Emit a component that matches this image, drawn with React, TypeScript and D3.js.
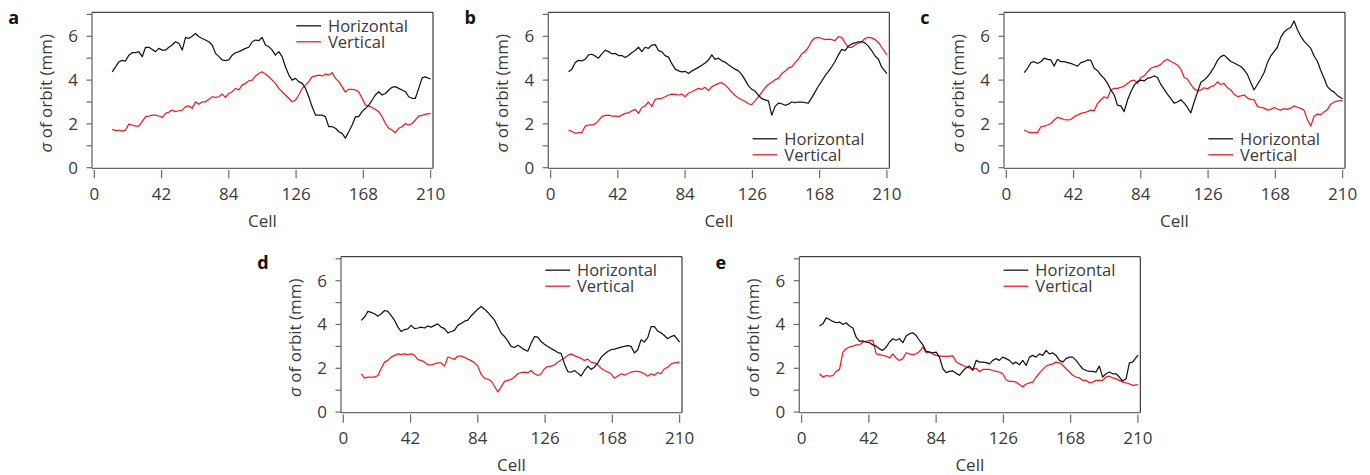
import React from 'react';
import * as d3 from 'd3';

// Cell positions at which the curves were read (shared by all panels)
const cells = [
  11.2, 13.3, 15.4, 17.4, 19.5, 21.6, 23.7, 25.8, 27.8, 29.9,
  32.0, 34.1, 36.2, 38.2, 40.3, 42.4, 44.5, 46.6, 48.6, 50.7,
  52.8, 54.9, 57.0, 59.0, 61.1, 63.2, 65.3, 67.4, 69.4, 71.5,
  73.6, 75.7, 77.8, 79.9, 81.9, 84.0, 86.1, 88.2, 90.3, 92.3,
  94.4, 96.5, 98.6, 100.7, 102.7, 104.8, 106.9, 109.0, 111.1, 113.1,
  115.2, 117.3, 119.4, 121.5, 123.5, 125.6, 127.7, 129.8, 131.9, 133.9,
  136.0, 138.1, 140.2, 142.3, 144.3, 146.4, 148.5, 150.6, 152.7, 154.7,
  156.8, 158.9, 161.0, 163.1, 165.1, 167.2, 169.3, 171.4, 173.5, 175.5,
  177.6, 179.7, 181.8, 183.9, 185.9, 188.0, 190.1, 192.2, 194.3, 196.3,
  198.4, 200.5, 202.6, 204.7, 206.7, 210.0,
];

const aHorizontal = [
  4.38, 4.6, 4.84, 4.9, 4.87, 5.14, 5.25, 5.25, 5.3, 5.07,
  5.5, 5.5, 5.4, 5.3, 5.45, 5.37, 5.37, 5.5, 5.6, 5.75,
  5.68, 5.37, 5.95, 5.9, 6.0, 6.13, 5.98, 5.9, 5.83, 5.75,
  5.6, 5.22, 5.07, 4.92, 4.89, 4.92, 5.14, 5.25, 5.3, 5.37,
  5.45, 5.5, 5.75, 5.83, 5.8,
  5.95, 5.6, 5.52, 5.37, 5.14, 5.3, 5.07, 4.6, 4.23, 4.0,
  4.08, 3.93, 3.85, 3.62, 3.24, 2.79, 2.4, 2.4, 2.4, 2.33,
  1.87, 1.87, 1.8, 1.64, 1.57, 1.35, 1.64, 1.95, 2.33, 2.33,
  2.56, 2.7, 2.86, 3.09, 3.32, 3.47, 3.32, 3.39, 3.55, 3.67,
  3.7, 3.62, 3.55, 3.47, 3.24, 3.17, 3.17, 3.62, 4.1, 4.15, 4.05,
];
const aVertical = [
  1.75, 1.69, 1.72, 1.67, 1.72, 1.99, 1.95, 1.9, 1.9, 2.1,
  2.33, 2.36, 2.4, 2.4, 2.36, 2.3, 2.48, 2.54, 2.63, 2.56,
  2.6, 2.63, 2.79, 2.82, 2.71, 3.01, 2.9, 3.01, 3.01, 3.12,
  3.24, 3.21, 3.24, 3.36, 3.21, 3.39, 3.47, 3.62, 3.55, 3.77,
  3.85, 3.97, 4.0, 4.19, 4.3,
  4.38, 4.28, 4.15, 4.0, 3.85, 3.62, 3.47, 3.32, 3.17, 3.01,
  3.09, 3.32, 3.62, 3.77, 3.93, 4.15, 4.19, 4.23, 4.19, 4.28,
  4.23, 4.34, 4.08, 3.93, 3.7, 3.45, 3.58, 3.58, 3.55, 3.47,
  3.17, 2.86, 2.82, 2.75, 2.66, 2.56, 2.33, 2.02, 1.8, 1.72,
  1.6, 1.8, 1.87, 2.02, 1.95, 2.02, 2.18, 2.36, 2.39, 2.44, 2.48,
];

const bHorizontal = [
  4.38, 4.5, 4.8, 4.9, 4.88, 4.95, 5.15, 5.18, 5.1, 5.0,
  5.2, 5.37, 5.3, 5.2, 5.22, 5.12, 5.12, 5.03, 5.12, 5.25,
  5.35, 5.5, 5.3, 5.5, 5.45, 5.6, 5.62, 5.35, 5.3, 5.12,
  5.05, 4.75, 4.5, 4.42, 4.38, 4.4, 4.3, 4.42, 4.5, 4.58,
  4.68, 4.78, 4.92, 5.15, 4.95, 5.0,
  4.88, 4.82, 4.7, 4.6, 4.5, 4.42, 4.25, 4.0, 3.75, 3.58,
  3.5, 3.3, 3.15, 3.1, 3.05, 2.4, 2.8, 2.95, 2.92, 2.85,
  2.9, 3.0, 2.97, 3.0, 3.0, 2.97, 2.95, 3.2, 3.45, 3.72,
  3.95, 4.2, 4.4, 4.6, 4.85, 5.15, 5.4, 5.35, 5.55, 5.65,
  5.7, 5.75, 5.75, 5.7, 5.55, 5.35, 5.1, 4.95, 4.6, 4.3,
];
const bVertical = [
  1.72, 1.65, 1.57, 1.6, 1.6, 1.9, 1.95, 1.95, 2.0, 2.15,
  2.33, 2.39, 2.4, 2.36, 2.36, 2.33, 2.4, 2.48, 2.5, 2.6,
  2.66, 2.48, 2.75, 2.82, 3.0, 2.79, 3.12, 3.15, 3.17, 3.24,
  3.32, 3.36, 3.35, 3.32, 3.36, 3.24, 3.4, 3.47, 3.55, 3.62,
  3.58, 3.67, 3.52, 3.7, 3.77, 3.85,
  3.88, 3.78, 3.62, 3.45, 3.3, 3.18, 3.1, 3.02, 2.92, 2.88,
  3.05, 3.25, 3.45, 3.65, 3.8, 3.9, 4.02, 4.08, 4.3, 4.4,
  4.55, 4.6, 4.8, 4.95, 5.2, 5.3, 5.5, 5.8, 5.92, 5.95,
  5.9, 5.85, 5.87, 5.85, 5.8, 5.98, 5.95, 5.7, 5.5, 5.5,
  5.6, 5.68, 5.75, 5.9, 5.95, 5.93, 5.85, 5.72, 5.5, 5.15,
];

const cHorizontal = [
  4.34, 4.54, 4.8, 4.84, 4.76, 4.84, 5.0, 4.95, 4.92, 4.64,
  4.95, 4.84, 4.84, 4.8, 4.76, 4.7, 4.64, 4.8, 4.84, 4.92,
  4.9, 4.54, 4.43, 4.23, 4.08, 3.85, 3.55, 3.32, 2.86, 2.82,
  2.56, 3.09, 3.47, 3.77, 3.93, 4.0, 3.96, 4.08, 4.12, 4.19,
  4.12,
  3.8, 3.58, 3.35, 3.15, 2.95, 3.0, 3.1, 2.95, 2.75,
  2.5, 3.0, 3.45, 3.9, 4.0, 4.15, 4.35, 4.6, 4.9, 5.07,
  5.14, 5.0, 4.85, 4.78, 4.7, 4.62, 4.47, 4.25, 3.88, 3.55,
  3.8, 4.05, 4.35, 4.8, 5.1, 5.3, 5.5, 5.95, 6.2, 6.32,
  6.4, 6.7, 6.3, 6.0, 5.78, 5.62, 5.45, 5.1, 4.85, 4.45,
  4.1, 3.7, 3.55, 3.45, 3.3, 3.15,
];
const cVertical = [
  1.72, 1.64, 1.6, 1.6, 1.6, 1.87, 1.9, 1.95, 2.02, 2.18,
  2.3, 2.25, 2.2, 2.18, 2.2, 2.33, 2.4, 2.48, 2.51, 2.56,
  2.63, 2.6, 2.94, 3.09, 3.24, 3.17, 3.55, 3.62, 3.62, 3.67,
  3.73, 3.85, 3.97, 4.0, 3.85, 4.12, 4.19, 4.38, 4.54, 4.6,
  4.64,
  4.72, 4.88, 4.95, 4.85, 4.78, 4.68, 4.5, 4.12, 4.05,
  3.8, 3.6, 3.5, 3.55, 3.65, 3.6, 3.7, 3.75, 3.92, 3.8,
  3.85, 3.65, 3.55, 3.35, 3.25, 3.28, 3.32, 3.18, 3.12, 3.1,
  2.8, 2.75, 2.72, 2.63, 2.66, 2.75, 2.68, 2.63, 2.7, 2.66,
  2.72, 2.82, 2.76, 2.71, 2.63, 2.2, 1.9, 2.35, 2.45, 2.42,
  2.55, 2.65, 2.9, 3.0, 3.04, 3.08,
];

const dHorizontal = [
  4.19, 4.34, 4.6, 4.55, 4.49, 4.38, 4.49, 4.64, 4.6, 4.41,
  4.19, 3.88, 3.68, 3.77, 3.8, 3.96, 3.81, 3.84, 3.88, 3.84,
  3.93, 3.88, 3.96, 4.03, 3.88, 3.81, 3.62, 3.68, 3.73, 3.96,
  4.05,
  4.15, 4.2, 4.4, 4.55, 4.7, 4.82, 4.7, 4.55, 4.38,
  4.2, 3.9, 3.6, 3.45, 3.25, 3.0, 2.95, 3.05, 2.95, 2.85,
  2.78, 3.15, 3.45, 3.42, 3.22, 3.1, 3.0, 2.9, 2.82, 2.72,
  2.68, 2.2, 1.85, 1.82, 1.9, 1.78, 1.65, 1.9, 2.1, 1.95,
  2.05, 2.25, 2.5, 2.65, 2.77, 2.85, 2.88, 2.92, 2.97, 3.0,
  3.04, 3.0, 2.7, 2.85, 3.3, 3.2, 3.4, 3.9, 3.9, 3.7,
  3.62, 3.5, 3.35, 3.45, 3.5, 3.2,
];
const dVertical = [
  1.75, 1.55, 1.6, 1.6, 1.6, 1.67, 2.0, 2.28, 2.36, 2.51,
  2.59, 2.66, 2.62, 2.66, 2.62, 2.66, 2.59, 2.4, 2.36, 2.28,
  2.16, 2.16, 2.2, 2.25, 2.25, 2.1, 2.51, 2.47, 2.4, 2.56,
  2.56,
  2.5, 2.42, 2.35, 2.25, 2.1, 1.72, 1.55, 1.5, 1.42,
  1.18, 0.92, 1.15, 1.4, 1.45, 1.49, 1.6, 1.75, 1.8, 1.83,
  1.8, 1.9, 1.75, 1.67, 1.75, 1.98, 2.08, 2.1, 2.15, 2.28,
  2.38, 2.47, 2.59, 2.66, 2.58, 2.51, 2.45, 2.36, 2.42, 2.28,
  2.25, 2.16, 2.0, 1.9, 1.83, 1.75, 1.55, 1.65, 1.75, 1.7,
  1.75, 1.83, 1.86, 1.86, 1.83, 1.75, 1.64, 1.75, 1.68, 1.8,
  1.75, 1.98, 2.05, 2.2, 2.25, 2.28,
];

const eHorizontal = [
  3.93, 4.03, 4.3, 4.23, 4.14, 4.08, 4.11, 4.0, 4.08, 3.93,
  3.84, 3.42, 3.23, 3.25, 3.2, 3.17, 3.07, 3.01, 2.89, 2.82,
  2.97, 3.2, 3.35, 3.28, 3.35, 3.17, 3.47, 3.58, 3.62, 3.5,
  3.27, 3.07, 2.77, 2.74, 2.71, 2.74, 2.51, 1.98, 1.8, 1.86,
  1.88, 1.77, 1.68, 1.88, 2.02, 2.1, 1.9, 2.36, 2.28, 2.28,
  2.26, 2.2, 2.36, 2.44, 2.36, 2.51, 2.44, 2.36, 2.2, 2.28,
  2.16, 2.36, 2.13, 2.51, 2.59, 2.51, 2.66, 2.59, 2.82, 2.66,
  2.7, 2.59, 2.36, 2.28, 2.44, 2.51, 2.51, 2.36, 2.16, 1.98,
  1.9, 1.86, 1.86, 1.83, 2.1, 1.6, 1.75, 1.83, 1.75, 1.75,
  1.6, 1.42, 1.52, 2.25, 2.28, 2.6,
];
const eVertical = [
  1.75, 1.6, 1.67, 1.64, 1.67, 1.86, 1.95, 2.74, 2.89, 2.97,
  3.01, 3.07, 3.07, 3.2, 3.23, 3.27, 3.27, 2.66, 2.62, 2.59,
  2.56, 2.47, 2.66, 2.47, 2.36, 2.44, 2.71, 2.66, 2.62, 2.66,
  2.77, 2.97, 2.71, 2.74, 2.66, 2.59, 2.56, 2.56, 2.54, 2.56,
  2.57, 2.3, 2.2, 2.14, 2.06, 2.02, 1.98, 2.0, 1.84, 1.95,
  1.95, 1.95, 1.9, 1.86, 1.83, 1.75, 1.48, 1.4, 1.4, 1.37,
  1.26, 1.15, 1.28, 1.33, 1.37, 1.58, 1.78, 1.95, 2.1, 2.16,
  2.2, 2.28, 2.25, 2.14, 1.98, 1.84, 1.68, 1.6, 1.56, 1.45,
  1.45, 1.34, 1.37, 1.45, 1.45, 1.45, 1.6, 1.64, 1.56, 1.52,
  1.45, 1.37, 1.34, 1.29, 1.22, 1.25,
];

const yTicks = [0, 1, 2, 3, 4, 5, 6, 7];
const yTickLabels = [0, 2, 4, 6];
const xTicks = [0, 42, 84, 126, 168, 210];
const seriesNames = ['Horizontal', 'Vertical'];

const panels = [
  { letter: 'a', left: 92, top: 12.3, legend: 'top', h: aHorizontal, v: aVertical },
  { letter: 'b', left: 548.3, top: 12.3, legend: 'bottom', h: bHorizontal, v: bVertical },
  { letter: 'c', left: 1004, top: 12.3, legend: 'bottom', h: cHorizontal, v: cVertical },
  { letter: 'd', left: 341, top: 256.7, legend: 'top', h: dHorizontal, v: dVertical },
  { letter: 'e', left: 799.3, top: 256.7, legend: 'top', h: eHorizontal, v: eVertical },
];

const W = 341;
const H = 156;
const FONT = "'Open Sans', 'Noto Sans', 'DejaVu Sans', sans-serif";
const TEXT = '#3a3a3a';
const AXIS = '#6a6a6a';
const BLACK = '#151515';
const RED = '#ec1c24';

function Panel({ p }: { p: any }) {
  const x = d3.scaleLinear().domain([0, 210]).range([2.3, 338.6]);
  const y = d3.scaleLinear().domain([0, 7]).range([155.4, 2.1]);
  const line = d3
    .line<number>()
    .x((_, i) => x(cells[i]))
    .y((d) => y(d));
  const legendY = p.legend === 'top' ? [13.5, 29.5] : [H - 29.5, H - 13.5];
  const colors = [BLACK, RED];
  return (
    <g transform={`translate(${p.left},${p.top})`} fontFamily={FONT}>
      <path d={line(p.v) || ''} fill="none" stroke={RED} strokeWidth={1.25} strokeLinejoin="round" />
      <path d={line(p.h) || ''} fill="none" stroke={BLACK} strokeWidth={1.25} strokeLinejoin="round" />
      {/* frame */}
      <line x1={0} x2={W} y1={0} y2={0} stroke={BLACK} strokeWidth={1} />
      <line x1={W} x2={W} y1={0} y2={H} stroke={BLACK} strokeWidth={1} />
      <line x1={0} x2={0} y1={0} y2={H} stroke={AXIS} strokeWidth={1.3} />
      <line x1={0} x2={W} y1={H} y2={H} stroke={AXIS} strokeWidth={1.3} />
      {/* y axis */}
      {yTicks.map((t) => (
        <line key={'yt' + t} x1={-5.5} x2={0} y1={y(t)} y2={y(t)} stroke={AXIS} strokeWidth={1.2} />
      ))}
      {yTickLabels.map((t) => (
        <text key={'yl' + t} x={-14} y={y(t) + 6} textAnchor="end" fontSize={17} fill={TEXT}>
          {t}
        </text>
      ))}
      {/* x axis */}
      {xTicks.map((t) => (
        <line key={'xt' + t} x1={x(t)} x2={x(t)} y1={H + 1.7} y2={H + 10} stroke={AXIS} strokeWidth={1.2} />
      ))}
      {xTicks.map((t) => (
        <text key={'xl' + t} x={x(t)} y={H + 31.7} textAnchor="middle" fontSize={17} fill={TEXT}>
          {t}
        </text>
      ))}
      <text x={W / 2} y={H + 58.5} textAnchor="middle" fontSize={17} fill={TEXT}>
        Cell
      </text>
      <text
        transform={`translate(${-47},${H / 2 + 3}) rotate(-90)`}
        textAnchor="middle"
        dominantBaseline="central"
        fontSize={17}
        fill={TEXT}
      >
        <tspan fontStyle="italic">σ</tspan> of orbit (mm)
      </text>
      {/* legend */}
      {seriesNames.map((n, i) => (
        <g key={n}>
          <line x1={W - 136.7} x2={W - 112} y1={legendY[i]} y2={legendY[i]} stroke={colors[i]} strokeWidth={1.3} />
          <text x={W - 105} y={legendY[i] + 6} fontSize={16.5} fill={TEXT}>
            {n}
          </text>
        </g>
      ))}
      {/* panel letter */}
      <text x={-83.7} y={12} fontSize={18} fontWeight="bold" fill="#111">
        {p.letter}
      </text>
    </g>
  );
}

export default function App() {
  return (
    <svg
      width={1370}
      height={475}
      viewBox="0 0 1370 475"
      style={{ position: 'absolute', left: 0, top: 0, background: '#fff' }}
    >
      <rect x={0} y={0} width={1370} height={475} fill="#fff" />
      {panels.map((p) => (
        <Panel key={p.letter} p={p} />
      ))}
    </svg>
  );
}
